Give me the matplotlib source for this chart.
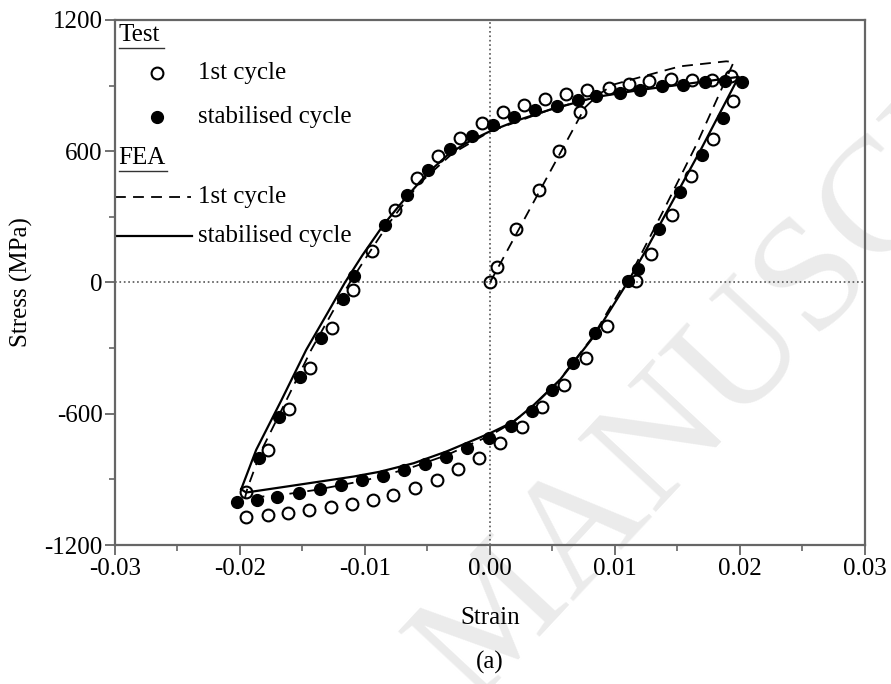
import matplotlib
matplotlib.use("Agg")
import matplotlib.pyplot as plt
from matplotlib.ticker import MultipleLocator

# ---------------- data ----------------
test1_strain = [0.0, 0.00053, 0.0021, 0.0039, 0.00555, 0.0072,
                0.0095, 0.0111, 0.01275, 0.0145, 0.01613, 0.0178, 0.0193,
                0.01947, 0.01781, 0.01608, 0.01453, 0.01285, 0.01168, 0.00939,
                0.00768, 0.00592, 0.00419, 0.00253, 0.0008,
                -0.0009, -0.00259, -0.00427, -0.006, -0.00773, -0.00934,
                -0.01102, -0.01272, -0.01446, -0.01613, -0.01778, -0.01952,
                -0.01952, -0.01773, -0.01606, -0.0144, -0.01266, -0.01098, -0.00946,
                -0.0076, -0.00587, -0.00413, -0.0024, -0.00067, 0.00101, 0.00272,
                0.0044, 0.00608, 0.00779]
test1_stress = [0, 70, 245, 424, 600, 778,
                889, 909, 920, 930, 927, 927, 942,
                831, 657, 485, 310, 130, 5, -198,
                -346, -468, -570, -659, -735,
                -801, -854, -903, -941, -971, -994,
                -1014, -1028, -1040, -1055, -1063, -1071,
                -956, -765, -578, -392, -209, -33, 142,
                333, 478, 577, 661, 729, 778, 813,
                839, 862, 879]

tests_strain = [-0.0084, -0.00667, -0.00493, -0.0032, -0.00147, 0.00021, 0.00192,
                0.0036, 0.00533, 0.00707, 0.0085,
                0.0104, 0.012, 0.01373, 0.01547, 0.0172, 0.0188, 0.02013,
                0.01861, 0.01693, 0.0152, 0.01355, 0.01187, 0.01107, 0.0084,
                0.00667, 0.005, 0.00333, 0.00165, -0.0001,
                -0.00181, -0.00352, -0.0052, -0.00688, -0.00858, -0.01026,
                -0.0119, -0.0136, -0.01528, -0.017, -0.01866, -0.02027,
                -0.01845, -0.01686, -0.0152, -0.01352, -0.01178, -0.01085]
tests_stress = [264, 401, 516, 610, 671, 721, 757,
                790, 805, 836, 851,
                866, 882, 897, 904, 915, 920, 915,
                752, 584, 412, 244, 61, 5, -231,
                -366, -491, -586, -656, -712,
                -758, -799, -831, -857, -884, -903,
                -925, -945, -964, -982, -994, -1002,
                -803, -613, -430, -252, -76, 31]

fea1_strain = [0.0, 0.0076, 0.0087, 0.0099, 0.0123, 0.0152, 0.0189, 0.0195,
               0.0166, 0.0138, 0.0112, 0.0108, 0.0082, 0.0055, 0.0033, 0.0015, 0.0,
               -0.0035, -0.0065, -0.0100, -0.0139, -0.0168, -0.0196,
               -0.0194, -0.0183, -0.0163, -0.0143, -0.0126, -0.0112, -0.0099,
               -0.0082, -0.0057, -0.0030, 0.0, 0.0048, 0.0085]
fea1_stress = [0, 800, 860, 905, 943, 988, 1011, 1008,
               640, 320, 30, 0, -250, -450, -575, -650, -700,
               -790, -850, -905, -948, -972, -985,
               -940, -770, -540, -308, -135, 0, 115,
               262, 450, 590, 690, 790, 850]

feas_strain = [-0.0199, -0.0187, -0.0167, -0.0147, -0.0130, -0.0116, -0.0102,
               -0.0085, -0.0067, -0.0049, -0.0032, -0.0015, 0.0, 0.0024, 0.0048,
               0.0085, 0.012, 0.016, 0.0199,
               0.0168, 0.0141, 0.0125, 0.0110, 0.0083, 0.0056, 0.0035, 0.0019,
               0.0, -0.0035, -0.0061, -0.0088, -0.0109, -0.0163, -0.0195, -0.0199]
feas_stress = [-945, -765, -540, -308, -140, 0, 125,
               265, 390, 505, 592, 650, 691, 745, 790,
               848, 880, 910, 940,
               600, 318, 150, 0, -247, -445, -560, -636,
               -689, -773, -826, -865, -887, -933, -960, -945]

xticks = [-0.03, -0.02, -0.01, 0.00, 0.01, 0.02, 0.03]
xticklabels = ["-0.03", "-0.02", "-0.01", "0.00", "0.01", "0.02", "0.03"]
yticks = [-1200, -600, 0, 600, 1200]
yticklabels = ["-1200", "-600", "0", "600", "1200"]

# ---------------- styling ----------------
plt.rcParams["font.family"] = ["Liberation Serif", "DejaVu Serif"]
plt.rcParams["axes.unicode_minus"] = False
FS = 18
spine_col = "#666666"

fig = plt.figure(figsize=(8.91, 6.84), dpi=100)

# faint watermark in a background layer
bg = fig.add_axes([0, 0, 1, 1], zorder=-5)
bg.axis("off")
bg.text(0.53, -0.03, "MANUSCRIPT", fontsize=118, color="#ebebeb",
        family=["Liberation Serif", "DejaVu Serif"], rotation=47,
        rotation_mode="anchor", ha="left", va="baseline",
        transform=bg.transAxes, clip_on=False)

ax = fig.add_axes([0.129, 0.2032, 0.8418, 0.7676], zorder=1)
ax.set_facecolor("none")
ax.axhline(0, color="#555555", ls=":", lw=1.2, zorder=1)
ax.axvline(0, color="#555555", ls=":", lw=1.2, zorder=1)

ax.plot(fea1_strain, fea1_stress, color="black", ls=(0, (6, 4)), lw=1.3, zorder=2)
ax.plot(feas_strain, feas_stress, color="black", ls="-", lw=1.6, zorder=3)
ax.plot(tests_strain, tests_stress, ls="none", marker="o", ms=8.5,
        mfc="black", mec="black", zorder=4)
ax.plot(test1_strain, test1_stress, ls="none", marker="o", ms=8.5,
        mfc="none", mec="black", mew=1.5, zorder=5)

ax.set_xlim(-0.03, 0.03)
ax.set_ylim(-1200, 1200)
ax.set_xticks(xticks)
ax.set_xticklabels(xticklabels)
ax.set_yticks(yticks)
ax.set_yticklabels(yticklabels)
ax.xaxis.set_minor_locator(MultipleLocator(0.005))
ax.yaxis.set_minor_locator(MultipleLocator(300))
ax.tick_params(which="major", direction="out", length=7, width=1.3,
               color=spine_col, labelsize=FS, pad=2)
ax.tick_params(which="minor", direction="out", length=4, width=1.2,
               color=spine_col)
for s in ax.spines.values():
    s.set_color(spine_col)
    s.set_linewidth(1.6)

ax.set_xlabel("Strain", fontsize=FS, va="center")
ax.set_ylabel("Stress (MPa)", fontsize=FS, va="center")
ax.xaxis.set_label_coords(0.5, -0.139)
ax.yaxis.set_label_coords(-0.124, 0.5)

fig.text(0.55, 0.032, "(a)", fontsize=FS, ha="center", va="center")

# ---------------- legend (manual, in axes fraction) ----------------
T = ax.transAxes
ax.text(0.005, 0.971, "Test", transform=T, fontsize=FS, ha="left", va="center")
ax.plot([0.005, 0.066], [0.947, 0.947], transform=T, color="#333333", lw=1.0, clip_on=False)
ax.plot([0.056], [0.899], transform=T, marker="o", ms=8.5, mfc="none",
        mec="black", mew=1.5, ls="none")
ax.text(0.111, 0.899, "1st cycle", transform=T, fontsize=FS, ha="left", va="center")
ax.plot([0.056], [0.815], transform=T, marker="o", ms=8.5, mfc="black",
        mec="black", ls="none")
ax.text(0.111, 0.815, "stabilised cycle", transform=T, fontsize=FS, ha="left", va="center")

ax.text(0.005, 0.737, "FEA", transform=T, fontsize=FS, ha="left", va="center")
ax.plot([0.005, 0.069], [0.713, 0.713], transform=T, color="#333333", lw=1.0, clip_on=False)
ax.plot([0.0, 0.101], [0.663, 0.663], transform=T, color="black",
        ls=(0, (6, 4)), lw=1.3)
ax.text(0.111, 0.663, "1st cycle", transform=T, fontsize=FS, ha="left", va="center")
ax.plot([0.0, 0.103], [0.589, 0.589], transform=T, color="black", lw=1.6)
ax.text(0.111, 0.589, "stabilised cycle", transform=T, fontsize=FS, ha="left", va="center")

fig.savefig("out.png", dpi=100)
